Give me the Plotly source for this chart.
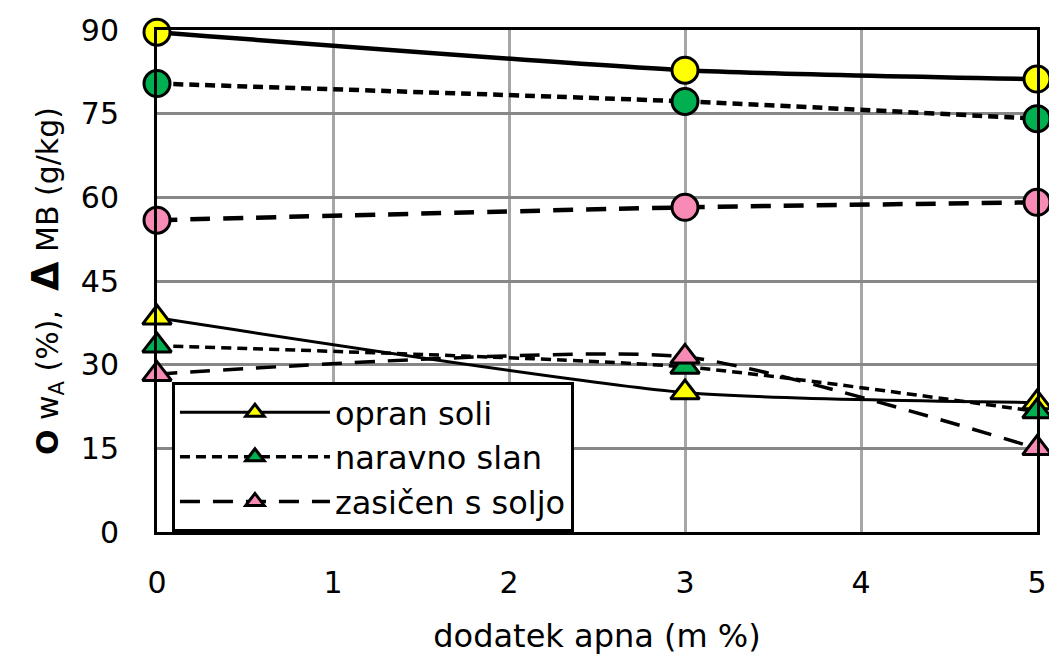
import plotly.graph_objects as go

x_vals = [0, 3, 5]
series_names = ["opran soli", "naravno slan", "zasičen s soljo"]
colors = ["#FFFF00", "#00B050", "#F78BB5"]
dashes = ["solid", "10px,6px", "20px,13px"]

# w_A (%) - circles
wA_opran = [89.6, 82.8, 81.2]
wA_naravno = [80.4, 77.2, 74.1]
wA_zasicen = [55.9, 58.2, 59.1]

# MB (g/kg) - triangles
mb_opran = [38.4, 25.0, 23.2]
mb_naravno = [33.4, 29.6, 21.6]
mb_zasicen = [28.3, 31.4, 15.0]

wA = [wA_opran, wA_naravno, wA_zasicen]
mb = [mb_opran, mb_naravno, mb_zasicen]

FONT = "DejaVu Sans"

fig = go.Figure()

for i in range(3):
    fig.add_trace(go.Scatter(
        x=x_vals, y=wA[i], mode="lines+markers", showlegend=False,
        line=dict(color="black", width=4.5, dash=dashes[i], shape="spline", smoothing=0.6),
        marker=dict(symbol="circle", size=26, color=colors[i], line=dict(color="black", width=3)),
        cliponaxis=False,
    ))

tri_widths = [3, 3.5, 3.5]
for i in range(3):
    fig.add_trace(go.Scatter(
        x=x_vals, y=mb[i], mode="lines+markers", name=series_names[i],
        line=dict(color="black", width=tri_widths[i], dash=dashes[i], shape="spline", smoothing=0.6),
        marker=dict(symbol="triangle-up", size=25, color=colors[i], line=dict(color="black", width=3)),
        cliponaxis=False,
    ))

fig.update_layout(
    width=1049, height=665,
    margin=dict(l=157, r=12, t=30, b=133),
    paper_bgcolor="white", plot_bgcolor="white",
    font=dict(family=FONT, size=30, color="black"),
    showlegend=True,
    legend=dict(
        x=0.017, y=0.299, xanchor="left", yanchor="top",
        bgcolor="white", bordercolor="black", borderwidth=3,
        font=dict(family=FONT, size=32, color="black"),
        itemwidth=150, tracegroupgap=0,
    ),
    xaxis=dict(
        range=[0, 5], tickvals=[0, 1, 2, 3, 4, 5],
        showgrid=True, gridcolor="#A6A6A6", gridwidth=3,
        showline=True, linecolor="black", linewidth=3, mirror=True,
        ticks="outside", ticklen=22, tickcolor="rgba(0,0,0,0)",
        zeroline=False, automargin=False,
        title=dict(text="dodatek apna (m %)", font=dict(family=FONT, size=32), standoff=26),
        tickfont=dict(family=FONT, size=30),
    ),
    yaxis=dict(
        range=[0, 90], tickvals=[0, 15, 30, 45, 60, 75, 90],
        showgrid=True, gridcolor="#878787", gridwidth=3,
        showline=True, linecolor="black", linewidth=3, mirror=True,
        ticks="outside", ticklen=29, tickcolor="rgba(0,0,0,0)",
        zeroline=False, automargin=False,
        title=dict(text="<b>O</b> w<sub>A</sub> (%),  <b><span style='font-size:38px'>Δ</span></b> MB (g/kg)",
                   font=dict(family=FONT, size=30), standoff=14),
        tickfont=dict(family=FONT, size=30),
    ),
)

page_css = ("document.body.style.margin='0';"
            "document.body.style.overflow='hidden';"
            "document.documentElement.style.overflow='hidden';")

fig.write_html("out.html", post_script=page_css, config={"displayModeBar": False})
